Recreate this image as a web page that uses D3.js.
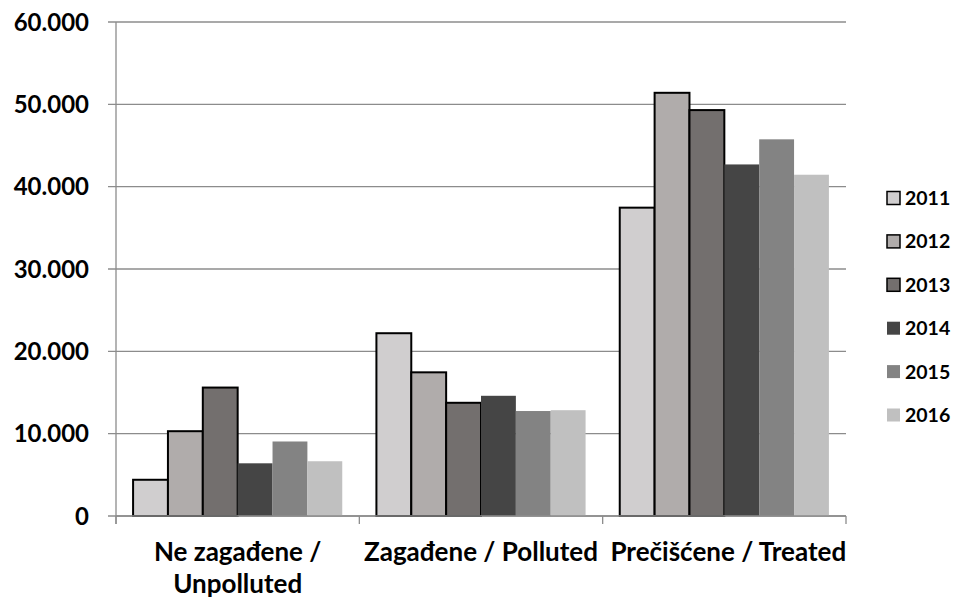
<!DOCTYPE html>
<html>
<head>
<meta charset="utf-8">
<script src="https://cdn.jsdelivr.net/npm/d3@7"></script>
<style>
  body { margin: 0; background: #fff; }
  text { font-family: Lato, "Liberation Sans", sans-serif; font-weight: bold; fill: #000; }
</style>
</head>
<body>
<svg id="chart"></svg>
<script>
const categories = [["Ne zagađene /", "Unpolluted"], ["Zagađene / Polluted"], ["Prečišćene / Treated"]];
const years = ["2011", "2012", "2013", "2014", "2015", "2016"];
const values2011 = [4400, 22200, 37450];
const values2012 = [10300, 17450, 51400];
const values2013 = [15600, 13750, 49300];
const values2014 = [6400, 14600, 42700];
const values2015 = [9050, 12750, 45750];
const values2016 = [6650, 12850, 41450];
const yTicks = [0, 10000, 20000, 30000, 40000, 50000, 60000];

const colors = ["#d0cecf", "#b0acab", "#736f6e", "#454545", "#838383", "#c0c0c0"];
const outlined = [true, true, true, false, false, false];
const series = [values2011, values2012, values2013, values2014, values2015, values2016];

const W = 954, H = 601;
const plot = { left: 116, right: 846, top: 22, bottom: 516 };

const svg = d3.select("#chart").attr("width", W).attr("height", H);

const x0 = d3.scaleBand().domain(d3.range(categories.length)).range([plot.left, plot.right]).padding(0);
const x1 = d3.scaleBand().domain(years).range([0, x0.bandwidth()]).paddingInner(0).paddingOuter(0.49);
const y = d3.scaleLinear().domain([0, 60000]).range([plot.bottom, plot.top]);

const fmt = (v) => v === 0 ? "0" : d3.format(",")(v).replace(/,/g, ".");

// gridlines
svg.append("g")
  .selectAll("line")
  .data(yTicks)
  .join("line")
  .attr("x1", plot.left - 8)
  .attr("x2", plot.right)
  .attr("y1", (d) => y(d))
  .attr("y2", (d) => y(d))
  .attr("stroke", "#8c8c8c")
  .attr("stroke-width", 1.3);

// y labels
svg.append("g")
  .selectAll("text")
  .data(yTicks)
  .join("text")
  .attr("x", 89)
  .attr("y", (d) => y(d))
  .attr("dy", "0.36em")
  .attr("text-anchor", "end")
  .style("font-size", "24px")
  .text(fmt);

// bars
years.forEach((yr, i) => {
  svg.append("g")
    .selectAll("rect")
    .data(series[i])
    .join("rect")
    .attr("x", (d, j) => x0(j) + x1(yr))
    .attr("y", (d) => y(d))
    .attr("width", x1.bandwidth())
    .attr("height", (d) => y(0) - y(d))
    .attr("fill", colors[i])
    .attr("stroke", outlined[i] ? "#000" : "none")
    .attr("stroke-width", outlined[i] ? 2 : 0);
});

// axes lines
svg.append("line")
  .attr("x1", plot.left).attr("x2", plot.left)
  .attr("y1", plot.top).attr("y2", plot.bottom + 8)
  .attr("stroke", "#8c8c8c").attr("stroke-width", 1.3);
svg.append("line")
  .attr("x1", plot.left).attr("x2", plot.right)
  .attr("y1", plot.bottom).attr("y2", plot.bottom)
  .attr("stroke", "#8c8c8c").attr("stroke-width", 1.3);
svg.append("g")
  .selectAll("line")
  .data(d3.range(categories.length + 1))
  .join("line")
  .attr("x1", (d) => plot.left + d * x0.bandwidth())
  .attr("x2", (d) => plot.left + d * x0.bandwidth())
  .attr("y1", plot.bottom)
  .attr("y2", plot.bottom + 8)
  .attr("stroke", "#8c8c8c").attr("stroke-width", 1.3);

// category labels
const cat = svg.append("g")
  .selectAll("text")
  .data(categories)
  .join("text")
  .attr("text-anchor", "middle")
  .attr("x", (d, j) => x0(j) + x0.bandwidth() / 2 + (j === 2 ? 4 : 0))
  .attr("y", 561)
  .style("font-size", "26px");
cat.selectAll("tspan")
  .data((d) => d)
  .join("tspan")
  .attr("x", function () { return this.parentNode.getAttribute("x"); })
  .attr("dy", (d, k) => k === 0 ? 0 : 32)
  .text((d) => d);

// legend
const legend = svg.append("g")
  .selectAll("g")
  .data(years)
  .join("g")
  .attr("transform", (d, i) => `translate(887, ${198 + i * 43.4})`);
legend.append("rect")
  .attr("x", 0).attr("y", -6.5)
  .attr("width", 13).attr("height", 13)
  .attr("fill", (d, i) => colors[i])
  .attr("stroke", (d, i) => outlined[i] ? "#000" : "none")
  .attr("stroke-width", 1.5);
legend.append("text")
  .attr("x", 18)
  .attr("dy", "0.36em")
  .style("font-size", "19.5px")
  .text((d) => d);
</script>
</body>
</html>
